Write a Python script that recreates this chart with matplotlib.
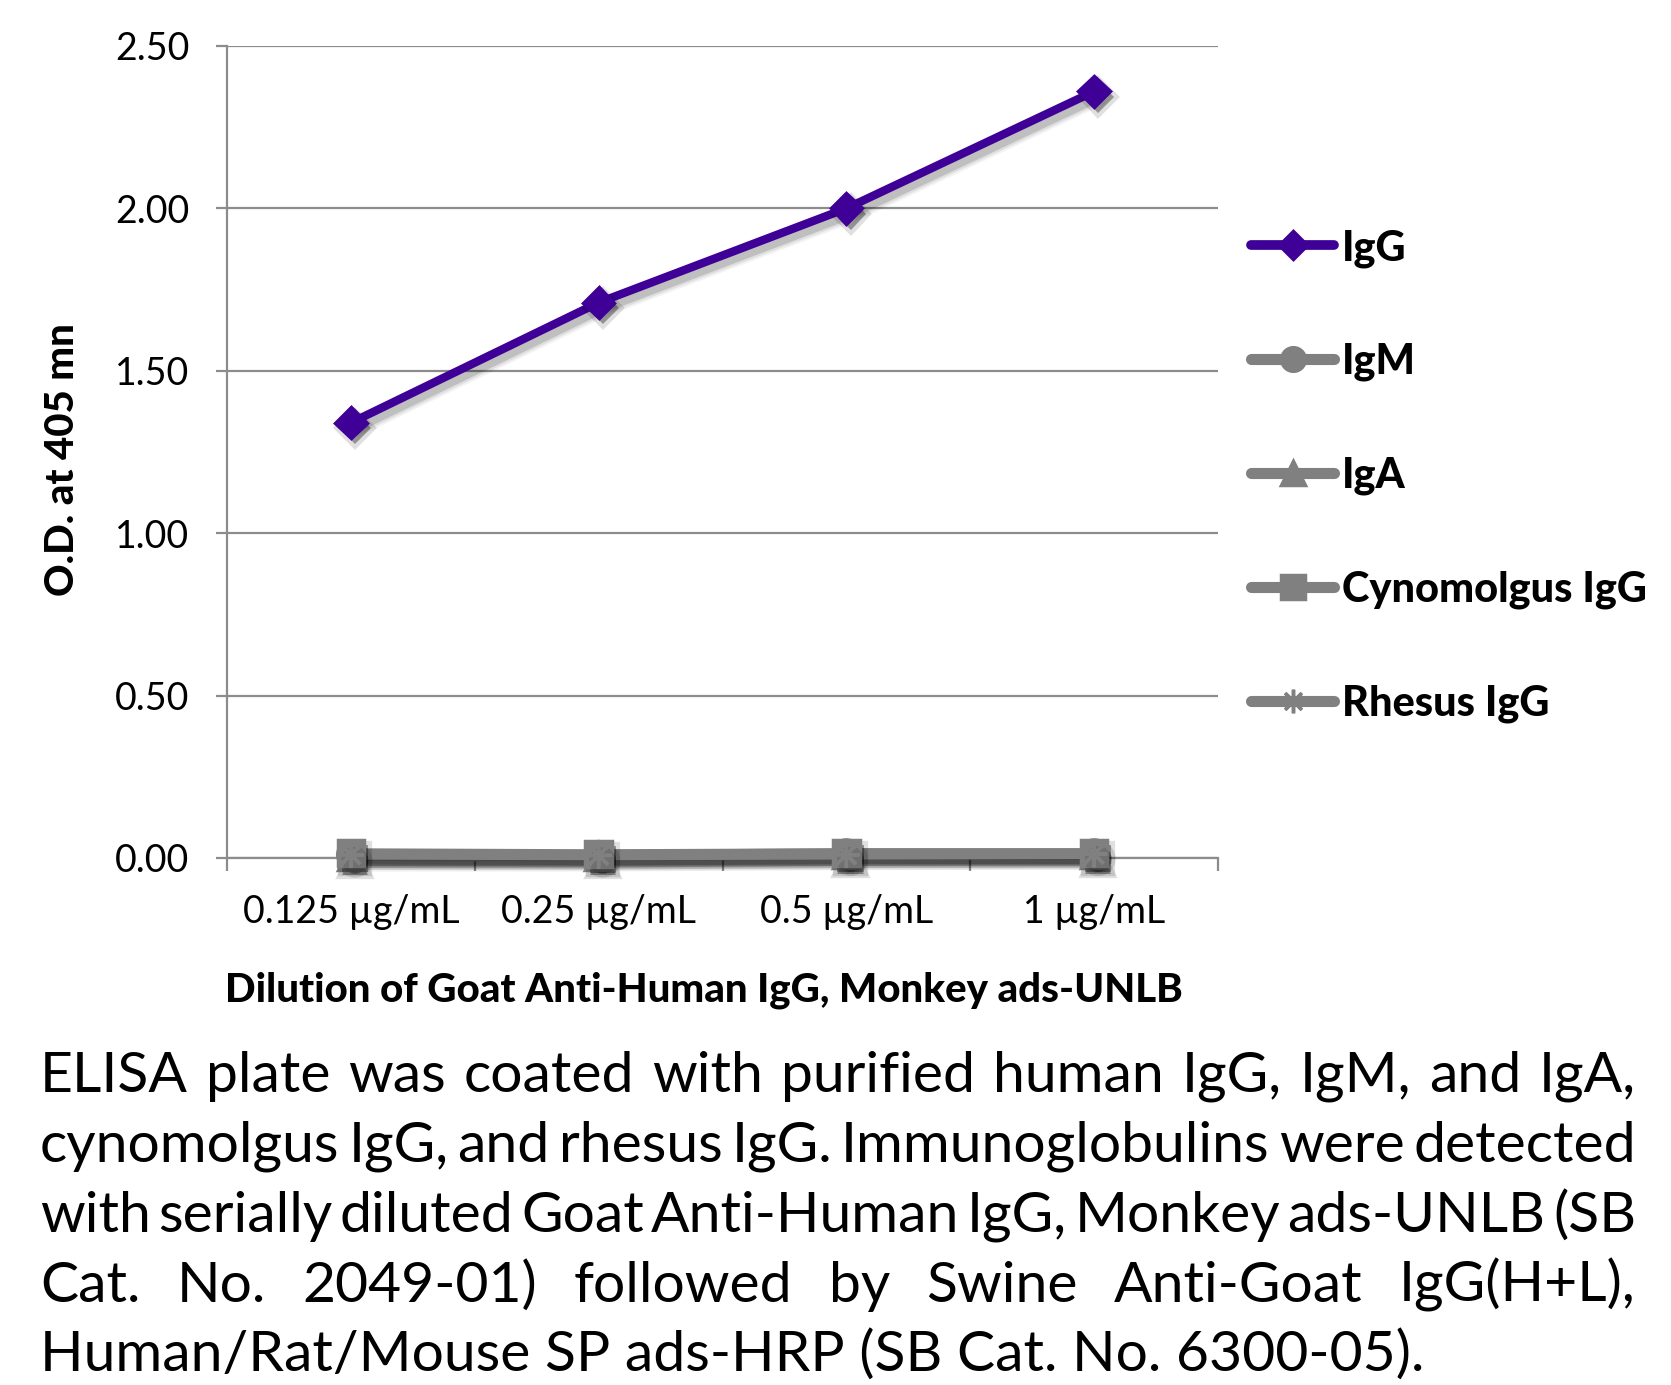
import matplotlib
matplotlib.use("Agg")
import matplotlib.pyplot as plt
import matplotlib.patheffects as pe
from matplotlib.lines import Line2D
from matplotlib.ticker import FixedLocator

W, H = 1671, 1385
DPI = 100

# data
doses = ["0.125 µg/mL", "0.25 µg/mL", "0.5 µg/mL", "1 µg/mL"]
igg = [1.34, 1.71, 2.00, 2.36]
igm = [0.010, 0.010, 0.015, 0.015]
iga = [0.005, 0.005, 0.010, 0.010]
cyno = [0.015, 0.012, 0.015, 0.015]
rhesus = [0.010, 0.008, 0.010, 0.012]
series_names = ["IgG", "IgM", "IgA", "Cynomolgus IgG", "Rhesus IgG"]
yticks = [0.0, 0.5, 1.0, 1.5, 2.0, 2.5]

xlabel = "Dilution of Goat Anti-Human IgG, Monkey ads-UNLB"
ylabel = "O.D. at 405 mn"
caption_lines = [
    "ELISA plate was coated with purified human IgG, IgM, and IgA,",
    "cynomolgus IgG, and rhesus IgG.  Immunoglobulins were detected",
    "with serially diluted Goat Anti-Human IgG, Monkey ads-UNLB (SB",
    "Cat. No. 2049-01) followed by Swine Anti-Goat IgG(H+L),",
    "Human/Rat/Mouse SP ads-HRP (SB Cat. No. 6300-05).",
]

PURPLE = "#3f0097"
GREY = "#808080"
AXIS = "#8c8c8c"

plt.rcParams["font.family"] = ["Lato", "DejaVu Sans"]

fig = plt.figure(figsize=(W / DPI, H / DPI), dpi=DPI)
ax = fig.add_axes([227 / W, 1 - 858 / H, (1218 - 227) / W, (858 - 46) / H])

xs = list(range(len(doses)))


def line_shadow(lw):
    # soft drop shadow: a few widening translucent strokes
    return [pe.SimpleLineShadow(offset=(3, -4), shadow_color="black", alpha=a, linewidth=lw + k)
            for k, a in [(7, 0.05), (4, 0.08), (1, 0.14)]] + [pe.Normal()]


marker_shadow = [pe.SimplePatchShadow(offset=(3, -4), shadow_rgbFace="black", alpha=0.12, linewidth=6),
                 pe.SimplePatchShadow(offset=(3, -4), shadow_rgbFace="black", alpha=0.25),
                 pe.Normal()]

styles = [(igg, PURPLE, 6, "D", 16), (igm, GREY, 7, "o", 19), (iga, GREY, 7, "^", 19),
          (cyno, GREY, 7, "s", 19), (rhesus, GREY, 7, (8, 2, 0), 19)]

handles = []
for vals, col, lw, mk, ms in styles:
    z = 6 if col == PURPLE else 4
    ax.plot(xs, vals, color=col, lw=lw, zorder=z, path_effects=line_shadow(lw),
            solid_capstyle="round", clip_on=False)
    ax.plot(xs, vals, ls="none", color=col, marker=mk, ms=ms, mew=2.5, zorder=z + 0.5,
            path_effects=marker_shadow, clip_on=False)
    handles.append(Line2D([], [], color=col, lw=lw + 1, marker=mk,
                          ms=14 if col == PURPLE else 17, mew=2.5, solid_capstyle="round"))

ax.set_xlim(-0.5, len(doses) - 0.5)
ax.set_ylim(0, 2.5)
ax.set_yticks(yticks)
ax.set_yticklabels([f"{v:.2f}" for v in yticks])
ax.set_xticks(xs)
ax.set_xticklabels(doses)
ax.xaxis.set_minor_locator(FixedLocator([i - 0.5 for i in range(len(doses) + 1)]))

ax.yaxis.grid(True, color=AXIS, lw=1.6)
ax.set_axisbelow(True)
for s in ["top", "right"]:
    ax.spines[s].set_visible(False)
for s in ["left", "bottom"]:
    ax.spines[s].set_color(AXIS)
    ax.spines[s].set_linewidth(1.6)

ax.tick_params(axis="y", length=8, width=1.6, color=AXIS, pad=19, labelsize=27)
ax.tick_params(axis="x", which="major", length=0, pad=26, labelsize=27)
ax.tick_params(axis="x", which="minor", length=9, width=1.6, color=AXIS)

fig.text(704 / W, 1 - 990 / H, xlabel, ha="center", va="center",
         fontsize=29, fontweight="black")
fig.text(62 / W, 1 - 460 / H, ylabel, ha="center", va="center", rotation=90,
         fontsize=29, fontweight="black")

ax.legend(handles, series_names, loc="upper left",
          bbox_to_anchor=(1251 / W, 1 - 229 / H), bbox_transform=fig.transFigure,
          frameon=False, prop=dict(weight="black", size=30), handlelength=2.0,
          handletextpad=0.18, labelspacing=1.81, borderpad=0, borderaxespad=0,
          numpoints=1)

# caption, justified like the original
renderer = fig.canvas.get_renderer()
CAP_X0, CAP_X1 = 40, 1636
cap_base = [1092, 1162, 1232, 1302, 1371]


def text_width(s, size):
    t = fig.text(0, 0, s, fontsize=size)
    w = t.get_window_extent(renderer).width
    t.remove()
    return w


cap_size = 42
space = text_width("n n", cap_size) - text_width("nn", cap_size)
for line in caption_lines[:-1]:
    words = line.split()
    need = sum(text_width(wd, cap_size) for wd in words) + 0.5 * space * (len(words) - 1)
    if need > CAP_X1 - CAP_X0:
        cap_size *= (CAP_X1 - CAP_X0) / need
        space = text_width("n n", cap_size) - text_width("nn", cap_size)

for line, yb in zip(caption_lines[:-1], cap_base[:-1]):
    words = line.split()
    widths = [text_width(wd, cap_size) for wd in words]
    gap = (CAP_X1 - CAP_X0 - sum(widths)) / (len(words) - 1)
    x = CAP_X0
    for wd, ww in zip(words, widths):
        fig.text(x / W, 1 - yb / H, wd, fontsize=cap_size, ha="left", va="baseline")
        x += ww + gap
fig.text(CAP_X0 / W, 1 - cap_base[-1] / H, caption_lines[-1], fontsize=cap_size,
         ha="left", va="baseline")

fig.savefig("out.png", dpi=DPI)
